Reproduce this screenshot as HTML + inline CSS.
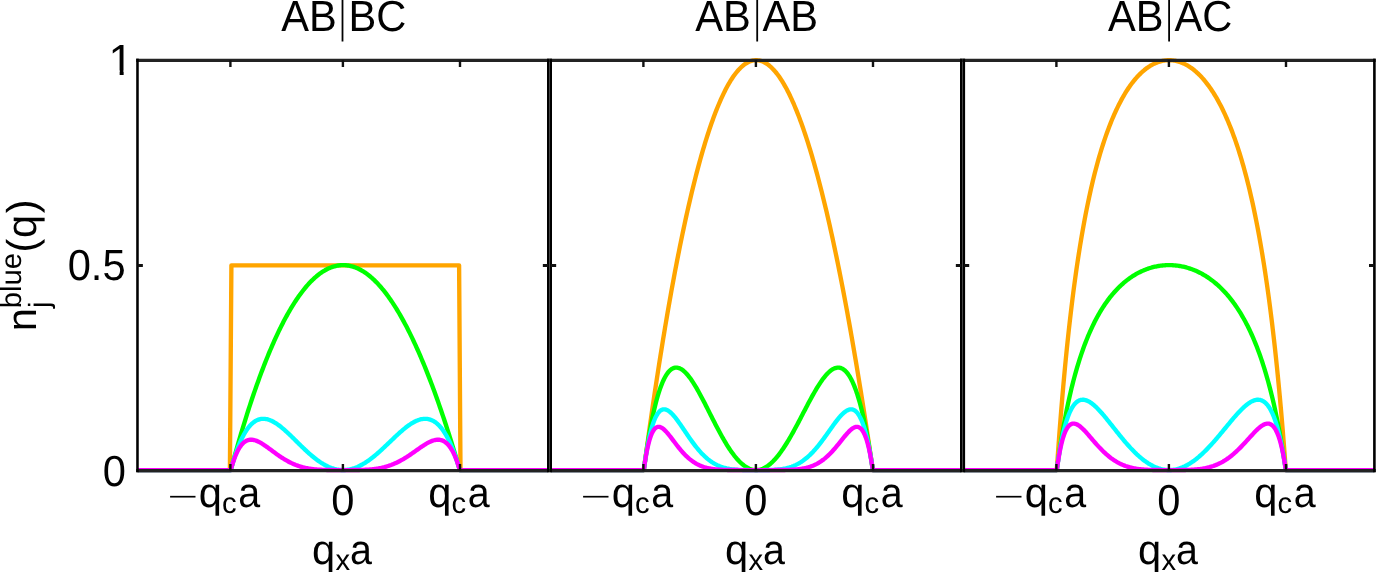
<!DOCTYPE html>
<html><head><meta charset="utf-8"><title>n_j blue(q)</title>
<style>
html,body{margin:0;padding:0;background:#fff;}
body{width:1376px;height:572px;overflow:hidden;font-family:"Liberation Sans",sans-serif;}
svg{display:block;will-change:transform;}
</style></head><body>
<svg width="1376" height="572" viewBox="0 0 1376 572">
<rect width="1376" height="572" fill="#fff"/>
<g fill="none" stroke-width="4.35" stroke-linejoin="round" stroke-linecap="butt" clip-path="url(#cp0)">
<path d="M137.50,470.05 L229.90,470.05 L231.40,265.30 L459.10,265.30 L460.50,470.05 L548.50,470.05" stroke="#ffa500"/>
<path d="M137.50,470.05 L230.80,470.05 L231.72,466.65 L232.64,463.28 L233.55,459.93 L234.47,456.62 L235.39,453.33 L236.31,450.07 L237.23,446.84 L238.15,443.64 L239.07,440.46 L239.99,437.32 L240.91,434.20 L241.83,431.11 L242.75,428.05 L243.67,425.02 L244.60,422.02 L245.52,419.05 L246.44,416.10 L247.36,413.18 L248.29,410.29 L249.21,407.43 L250.13,404.60 L251.06,401.80 L251.98,399.02 L252.91,396.28 L253.83,393.56 L254.76,390.87 L255.68,388.21 L256.61,385.58 L257.54,382.97 L258.46,380.40 L259.39,377.85 L260.32,375.33 L261.24,372.84 L262.17,370.38 L263.10,367.94 L264.03,365.54 L264.96,363.16 L265.89,360.81 L266.81,358.49 L267.74,356.20 L268.67,353.94 L269.60,351.71 L270.53,349.50 L271.47,347.32 L272.40,345.17 L273.33,343.05 L274.26,340.96 L275.19,338.90 L276.12,336.86 L277.06,334.86 L277.99,332.88 L278.92,330.93 L279.86,329.01 L280.79,327.11 L281.72,325.25 L282.66,323.41 L283.59,321.61 L284.53,319.83 L285.46,318.08 L286.40,316.36 L287.34,314.66 L288.27,313.00 L289.21,311.36 L290.15,309.75 L291.08,308.17 L292.02,306.62 L292.96,305.10 L293.90,303.61 L294.83,302.14 L295.77,300.70 L296.71,299.29 L297.65,297.91 L298.59,296.56 L299.53,295.24 L300.47,293.94 L301.41,292.68 L302.35,291.44 L303.29,290.23 L304.24,289.05 L305.18,287.89 L306.12,286.77 L307.06,285.67 L308.00,284.61 L308.95,283.57 L309.89,282.56 L310.83,281.58 L311.78,280.62 L312.72,279.70 L313.67,278.80 L314.61,277.93 L315.56,277.09 L316.50,276.28 L317.45,275.50 L318.39,274.75 L319.34,274.02 L320.29,273.32 L321.23,272.65 L322.18,272.01 L323.13,271.40 L324.08,270.82 L325.03,270.26 L325.97,269.74 L326.92,269.24 L327.87,268.77 L328.82,268.33 L329.77,267.91 L330.72,267.53 L331.67,267.17 L332.62,266.85 L333.57,266.55 L334.52,266.28 L335.48,266.04 L336.43,265.82 L337.38,265.64 L338.33,265.48 L339.29,265.35 L340.24,265.25 L341.19,265.18 L342.15,265.14 L343.10,265.12 L344.05,265.14 L345.01,265.18 L345.96,265.25 L346.92,265.35 L347.87,265.48 L348.83,265.64 L349.79,265.82 L350.74,266.04 L351.70,266.28 L352.66,266.55 L353.61,266.85 L354.57,267.17 L355.53,267.53 L356.49,267.91 L357.45,268.33 L358.41,268.77 L359.36,269.24 L360.32,269.74 L361.28,270.26 L362.24,270.82 L363.20,271.40 L364.17,272.01 L365.13,272.65 L366.09,273.32 L367.05,274.02 L368.01,274.75 L368.97,275.50 L369.94,276.28 L370.90,277.09 L371.86,277.93 L372.83,278.80 L373.79,279.70 L374.75,280.62 L375.72,281.58 L376.68,282.56 L377.65,283.57 L378.61,284.61 L379.58,285.67 L380.54,286.77 L381.51,287.89 L382.48,289.05 L383.44,290.23 L384.41,291.44 L385.38,292.68 L386.35,293.94 L387.31,295.24 L388.28,296.56 L389.25,297.91 L390.22,299.29 L391.19,300.70 L392.16,302.14 L393.13,303.61 L394.10,305.10 L395.07,306.62 L396.04,308.17 L397.01,309.75 L397.98,311.36 L398.96,313.00 L399.93,314.66 L400.90,316.36 L401.87,318.08 L402.85,319.83 L403.82,321.61 L404.79,323.41 L405.77,325.25 L406.74,327.11 L407.71,329.01 L408.69,330.93 L409.66,332.88 L410.64,334.86 L411.62,336.86 L412.59,338.90 L413.57,340.96 L414.54,343.05 L415.52,345.17 L416.50,347.32 L417.48,349.50 L418.45,351.71 L419.43,353.94 L420.41,356.20 L421.39,358.49 L422.37,360.81 L423.35,363.16 L424.33,365.54 L425.31,367.94 L426.29,370.38 L427.27,372.84 L428.25,375.33 L429.23,377.85 L430.21,380.40 L431.19,382.97 L432.18,385.58 L433.16,388.21 L434.14,390.87 L435.12,393.56 L436.11,396.28 L437.09,399.02 L438.08,401.80 L439.06,404.60 L440.04,407.43 L441.03,410.29 L442.01,413.18 L443.00,416.10 L443.99,419.05 L444.97,422.02 L445.96,425.02 L446.94,428.05 L447.93,431.11 L448.92,434.20 L449.91,437.32 L450.89,440.46 L451.88,443.64 L452.87,446.84 L453.86,450.07 L454.85,453.33 L455.84,456.62 L456.83,459.93 L457.82,463.28 L458.81,466.65 L459.80,470.05 L548.50,470.05" stroke="#00ff00"/>
<path d="M137.50,470.05 L230.80,470.05 L231.72,466.71 L232.64,463.50 L233.55,460.43 L234.47,457.50 L235.39,454.69 L236.31,452.02 L237.23,449.47 L238.15,447.04 L239.07,444.74 L239.99,442.55 L240.91,440.47 L241.83,438.51 L242.75,436.66 L243.67,434.92 L244.60,433.28 L245.52,431.74 L246.44,430.30 L247.36,428.96 L248.29,427.72 L249.21,426.57 L250.13,425.50 L251.06,424.53 L251.98,423.64 L252.91,422.84 L253.83,422.11 L254.76,421.46 L255.68,420.89 L256.61,420.40 L257.54,419.97 L258.46,419.62 L259.39,419.33 L260.32,419.11 L261.24,418.95 L262.17,418.86 L263.10,418.82 L264.03,418.84 L264.96,418.91 L265.89,419.04 L266.81,419.22 L267.74,419.45 L268.67,419.73 L269.60,420.05 L270.53,420.42 L271.47,420.82 L272.40,421.27 L273.33,421.76 L274.26,422.28 L275.19,422.84 L276.12,423.43 L277.06,424.05 L277.99,424.70 L278.92,425.38 L279.86,426.08 L280.79,426.81 L281.72,427.57 L282.66,428.34 L283.59,429.14 L284.53,429.95 L285.46,430.78 L286.40,431.63 L287.34,432.49 L288.27,433.36 L289.21,434.25 L290.15,435.14 L291.08,436.04 L292.02,436.96 L292.96,437.87 L293.90,438.80 L294.83,439.72 L295.77,440.65 L296.71,441.58 L297.65,442.51 L298.59,443.44 L299.53,444.36 L300.47,445.28 L301.41,446.20 L302.35,447.12 L303.29,448.02 L304.24,448.92 L305.18,449.81 L306.12,450.69 L307.06,451.56 L308.00,452.42 L308.95,453.27 L309.89,454.10 L310.83,454.92 L311.78,455.72 L312.72,456.51 L313.67,457.29 L314.61,458.04 L315.56,458.78 L316.50,459.50 L317.45,460.20 L318.39,460.88 L319.34,461.54 L320.29,462.18 L321.23,462.80 L322.18,463.39 L323.13,463.97 L324.08,464.52 L325.03,465.04 L325.97,465.54 L326.92,466.02 L327.87,466.47 L328.82,466.90 L329.77,467.30 L330.72,467.67 L331.67,468.02 L332.62,468.34 L333.57,468.64 L334.52,468.90 L335.48,469.14 L336.43,469.36 L337.38,469.54 L338.33,469.69 L339.29,469.82 L340.24,469.92 L341.19,469.99 L342.15,470.04 L343.10,470.05 L344.05,470.04 L345.01,469.99 L345.96,469.92 L346.92,469.82 L347.87,469.69 L348.83,469.54 L349.79,469.36 L350.74,469.14 L351.70,468.90 L352.66,468.64 L353.61,468.34 L354.57,468.02 L355.53,467.67 L356.49,467.30 L357.45,466.90 L358.41,466.47 L359.36,466.02 L360.32,465.54 L361.28,465.04 L362.24,464.52 L363.20,463.97 L364.17,463.39 L365.13,462.80 L366.09,462.18 L367.05,461.54 L368.01,460.88 L368.97,460.20 L369.94,459.50 L370.90,458.78 L371.86,458.04 L372.83,457.29 L373.79,456.51 L374.75,455.72 L375.72,454.92 L376.68,454.10 L377.65,453.27 L378.61,452.42 L379.58,451.56 L380.54,450.69 L381.51,449.81 L382.48,448.92 L383.44,448.02 L384.41,447.12 L385.38,446.20 L386.35,445.28 L387.31,444.36 L388.28,443.44 L389.25,442.51 L390.22,441.58 L391.19,440.65 L392.16,439.72 L393.13,438.80 L394.10,437.87 L395.07,436.96 L396.04,436.04 L397.01,435.14 L397.98,434.25 L398.96,433.36 L399.93,432.49 L400.90,431.63 L401.87,430.78 L402.85,429.95 L403.82,429.14 L404.79,428.34 L405.77,427.57 L406.74,426.81 L407.71,426.08 L408.69,425.38 L409.66,424.70 L410.64,424.05 L411.62,423.43 L412.59,422.84 L413.57,422.28 L414.54,421.76 L415.52,421.27 L416.50,420.82 L417.48,420.42 L418.45,420.05 L419.43,419.73 L420.41,419.45 L421.39,419.22 L422.37,419.04 L423.35,418.91 L424.33,418.84 L425.31,418.82 L426.29,418.86 L427.27,418.95 L428.25,419.11 L429.23,419.33 L430.21,419.62 L431.19,419.97 L432.18,420.40 L433.16,420.89 L434.14,421.46 L435.12,422.11 L436.11,422.84 L437.09,423.64 L438.08,424.53 L439.06,425.50 L440.04,426.57 L441.03,427.72 L442.01,428.96 L443.00,430.30 L443.99,431.74 L444.97,433.28 L445.96,434.92 L446.94,436.66 L447.93,438.51 L448.92,440.47 L449.91,442.55 L450.89,444.74 L451.88,447.04 L452.87,449.47 L453.86,452.02 L454.85,454.69 L455.84,457.50 L456.83,460.43 L457.82,463.50 L458.81,466.71 L459.80,470.05 L548.50,470.05" stroke="#00ffff"/>
<path d="M137.50,470.05 L230.80,470.05 L231.72,466.76 L232.64,463.72 L233.55,460.91 L234.47,458.32 L235.39,455.95 L236.31,453.78 L237.23,451.80 L238.15,450.01 L239.07,448.39 L239.99,446.94 L240.91,445.65 L241.83,444.50 L242.75,443.50 L243.67,442.64 L244.60,441.90 L245.52,441.28 L246.44,440.77 L247.36,440.37 L248.29,440.06 L249.21,439.85 L250.13,439.73 L251.06,439.69 L251.98,439.73 L252.91,439.83 L253.83,440.00 L254.76,440.24 L255.68,440.53 L256.61,440.87 L257.54,441.25 L258.46,441.68 L259.39,442.15 L260.32,442.66 L261.24,443.19 L262.17,443.76 L263.10,444.35 L264.03,444.96 L264.96,445.59 L265.89,446.23 L266.81,446.89 L267.74,447.56 L268.67,448.24 L269.60,448.92 L270.53,449.61 L271.47,450.30 L272.40,451.00 L273.33,451.68 L274.26,452.37 L275.19,453.05 L276.12,453.73 L277.06,454.40 L277.99,455.06 L278.92,455.70 L279.86,456.34 L280.79,456.97 L281.72,457.58 L282.66,458.19 L283.59,458.77 L284.53,459.35 L285.46,459.90 L286.40,460.44 L287.34,460.97 L288.27,461.48 L289.21,461.97 L290.15,462.45 L291.08,462.91 L292.02,463.35 L292.96,463.77 L293.90,464.18 L294.83,464.57 L295.77,464.95 L296.71,465.30 L297.65,465.64 L298.59,465.97 L299.53,466.28 L300.47,466.57 L301.41,466.84 L302.35,467.11 L303.29,467.35 L304.24,467.58 L305.18,467.80 L306.12,468.01 L307.06,468.20 L308.00,468.37 L308.95,468.54 L309.89,468.69 L310.83,468.84 L311.78,468.97 L312.72,469.09 L313.67,469.20 L314.61,469.30 L315.56,469.39 L316.50,469.48 L317.45,469.55 L318.39,469.62 L319.34,469.68 L320.29,469.74 L321.23,469.78 L322.18,469.83 L323.13,469.86 L324.08,469.90 L325.03,469.92 L325.97,469.95 L326.92,469.97 L327.87,469.99 L328.82,470.00 L329.77,470.01 L330.72,470.02 L331.67,470.03 L332.62,470.04 L333.57,470.04 L334.52,470.04 L335.48,470.05 L336.43,470.05 L337.38,470.05 L338.33,470.05 L339.29,470.05 L340.24,470.05 L341.19,470.05 L342.15,470.05 L343.10,470.05 L344.05,470.05 L345.01,470.05 L345.96,470.05 L346.92,470.05 L347.87,470.05 L348.83,470.05 L349.79,470.05 L350.74,470.05 L351.70,470.04 L352.66,470.04 L353.61,470.04 L354.57,470.03 L355.53,470.02 L356.49,470.01 L357.45,470.00 L358.41,469.99 L359.36,469.97 L360.32,469.95 L361.28,469.92 L362.24,469.90 L363.20,469.86 L364.17,469.83 L365.13,469.78 L366.09,469.74 L367.05,469.68 L368.01,469.62 L368.97,469.55 L369.94,469.48 L370.90,469.39 L371.86,469.30 L372.83,469.20 L373.79,469.09 L374.75,468.97 L375.72,468.84 L376.68,468.69 L377.65,468.54 L378.61,468.37 L379.58,468.20 L380.54,468.01 L381.51,467.80 L382.48,467.58 L383.44,467.35 L384.41,467.11 L385.38,466.84 L386.35,466.57 L387.31,466.28 L388.28,465.97 L389.25,465.64 L390.22,465.30 L391.19,464.95 L392.16,464.57 L393.13,464.18 L394.10,463.77 L395.07,463.35 L396.04,462.91 L397.01,462.45 L397.98,461.97 L398.96,461.48 L399.93,460.97 L400.90,460.44 L401.87,459.90 L402.85,459.35 L403.82,458.77 L404.79,458.19 L405.77,457.58 L406.74,456.97 L407.71,456.34 L408.69,455.70 L409.66,455.06 L410.64,454.40 L411.62,453.73 L412.59,453.05 L413.57,452.37 L414.54,451.68 L415.52,451.00 L416.50,450.30 L417.48,449.61 L418.45,448.92 L419.43,448.24 L420.41,447.56 L421.39,446.89 L422.37,446.23 L423.35,445.59 L424.33,444.96 L425.31,444.35 L426.29,443.76 L427.27,443.19 L428.25,442.66 L429.23,442.15 L430.21,441.68 L431.19,441.25 L432.18,440.87 L433.16,440.53 L434.14,440.24 L435.12,440.00 L436.11,439.83 L437.09,439.73 L438.08,439.69 L439.06,439.73 L440.04,439.85 L441.03,440.06 L442.01,440.37 L443.00,440.77 L443.99,441.28 L444.97,441.90 L445.96,442.64 L446.94,443.50 L447.93,444.50 L448.92,445.65 L449.91,446.94 L450.89,448.39 L451.88,450.01 L452.87,451.80 L453.86,453.78 L454.85,455.95 L455.84,458.32 L456.83,460.91 L457.82,463.72 L458.81,466.76 L459.80,470.05 L548.50,470.05" stroke="#ff00ff"/>
</g>
<g fill="none" stroke-width="4.35" stroke-linejoin="round" stroke-linecap="butt" clip-path="url(#cp1)">
<path d="M550.50,470.05 L643.80,470.05 L644.72,463.25 L645.64,456.50 L646.55,449.81 L647.47,443.18 L648.39,436.61 L649.31,430.09 L650.23,423.63 L651.15,417.22 L652.07,410.88 L652.99,404.59 L653.91,398.35 L654.83,392.18 L655.75,386.06 L656.67,380.00 L657.60,373.99 L658.52,368.04 L659.44,362.15 L660.36,356.32 L661.29,350.54 L662.21,344.82 L663.13,339.15 L664.06,333.55 L664.98,328.00 L665.91,322.50 L666.83,317.07 L667.76,311.69 L668.68,306.37 L669.61,301.10 L670.54,295.89 L671.46,290.74 L672.39,285.65 L673.32,280.61 L674.24,275.63 L675.17,270.70 L676.10,265.84 L677.03,261.03 L677.96,256.27 L678.89,251.58 L679.81,246.94 L680.74,242.36 L681.67,237.83 L682.60,233.36 L683.53,228.95 L684.47,224.60 L685.40,220.30 L686.33,216.06 L687.26,211.87 L688.19,207.75 L689.12,203.68 L690.06,199.66 L690.99,195.71 L691.92,191.81 L692.86,187.97 L693.79,184.18 L694.72,180.45 L695.66,176.78 L696.59,173.16 L697.53,169.61 L698.46,166.11 L699.40,162.66 L700.34,159.28 L701.27,155.95 L702.21,152.67 L703.15,149.46 L704.08,146.30 L705.02,143.19 L705.96,140.15 L706.90,137.16 L707.83,134.23 L708.77,131.35 L709.71,128.54 L710.65,125.78 L711.59,123.07 L712.53,120.43 L713.47,117.84 L714.41,115.30 L715.35,112.83 L716.29,110.41 L717.24,108.04 L718.18,105.74 L719.12,103.49 L720.06,101.30 L721.00,99.16 L721.95,97.09 L722.89,95.07 L723.83,93.10 L724.78,91.19 L725.72,89.34 L726.67,87.55 L727.61,85.82 L728.56,84.14 L729.50,82.51 L730.45,80.95 L731.39,79.44 L732.34,77.99 L733.29,76.59 L734.23,75.26 L735.18,73.98 L736.13,72.75 L737.08,71.58 L738.03,70.47 L738.97,69.42 L739.92,68.43 L740.87,67.49 L741.82,66.60 L742.77,65.78 L743.72,65.01 L744.67,64.30 L745.62,63.64 L746.57,63.05 L747.52,62.51 L748.48,62.02 L749.43,61.59 L750.38,61.22 L751.33,60.91 L752.29,60.66 L753.24,60.46 L754.19,60.31 L755.15,60.23 L756.10,60.20 L757.05,60.23 L758.01,60.31 L758.96,60.46 L759.92,60.66 L760.87,60.91 L761.83,61.22 L762.79,61.59 L763.74,62.02 L764.70,62.51 L765.66,63.05 L766.61,63.64 L767.57,64.30 L768.53,65.01 L769.49,65.78 L770.45,66.60 L771.41,67.49 L772.36,68.43 L773.32,69.42 L774.28,70.47 L775.24,71.58 L776.20,72.75 L777.17,73.98 L778.13,75.26 L779.09,76.59 L780.05,77.99 L781.01,79.44 L781.97,80.95 L782.94,82.51 L783.90,84.14 L784.86,85.82 L785.83,87.55 L786.79,89.34 L787.75,91.19 L788.72,93.10 L789.68,95.07 L790.65,97.09 L791.61,99.16 L792.58,101.30 L793.54,103.49 L794.51,105.74 L795.48,108.04 L796.44,110.41 L797.41,112.83 L798.38,115.30 L799.35,117.84 L800.31,120.43 L801.28,123.07 L802.25,125.78 L803.22,128.54 L804.19,131.35 L805.16,134.23 L806.13,137.16 L807.10,140.15 L808.07,143.19 L809.04,146.30 L810.01,149.46 L810.98,152.67 L811.96,155.95 L812.93,159.28 L813.90,162.66 L814.87,166.11 L815.85,169.61 L816.82,173.16 L817.79,176.78 L818.77,180.45 L819.74,184.18 L820.71,187.97 L821.69,191.81 L822.66,195.71 L823.64,199.66 L824.62,203.68 L825.59,207.75 L826.57,211.87 L827.54,216.06 L828.52,220.30 L829.50,224.60 L830.48,228.95 L831.45,233.36 L832.43,237.83 L833.41,242.36 L834.39,246.94 L835.37,251.58 L836.35,256.27 L837.33,261.03 L838.31,265.84 L839.29,270.70 L840.27,275.63 L841.25,280.61 L842.23,285.65 L843.21,290.74 L844.19,295.89 L845.18,301.10 L846.16,306.37 L847.14,311.69 L848.12,317.07 L849.11,322.50 L850.09,328.00 L851.08,333.55 L852.06,339.15 L853.04,344.82 L854.03,350.54 L855.01,356.32 L856.00,362.15 L856.99,368.04 L857.97,373.99 L858.96,380.00 L859.94,386.06 L860.93,392.18 L861.92,398.35 L862.91,404.59 L863.89,410.88 L864.88,417.22 L865.87,423.63 L866.86,430.09 L867.85,436.61 L868.84,443.18 L869.83,449.81 L870.82,456.50 L871.81,463.25 L872.80,470.05 L961.50,470.05" stroke="#ffa500"/>
<path d="M550.50,470.05 L643.80,470.05 L644.72,463.36 L645.64,456.95 L646.55,450.81 L647.47,444.94 L648.39,439.34 L649.31,433.99 L650.23,428.89 L651.15,424.03 L652.07,419.42 L652.99,415.04 L653.91,410.90 L654.83,406.97 L655.75,403.27 L656.67,399.78 L657.60,396.51 L658.52,393.43 L659.44,390.56 L660.36,387.88 L661.29,385.39 L662.21,383.08 L663.13,380.96 L664.06,379.01 L664.98,377.23 L665.91,375.62 L666.83,374.17 L667.76,372.88 L668.68,371.74 L669.61,370.75 L670.54,369.90 L671.46,369.19 L672.39,368.61 L673.32,368.17 L674.24,367.86 L675.17,367.66 L676.10,367.59 L677.03,367.63 L677.96,367.78 L678.89,368.04 L679.81,368.39 L680.74,368.85 L681.67,369.41 L682.60,370.05 L683.53,370.78 L684.47,371.60 L685.40,372.49 L686.33,373.46 L687.26,374.51 L688.19,375.62 L689.12,376.80 L690.06,378.04 L690.99,379.35 L691.92,380.70 L692.86,382.11 L693.79,383.57 L694.72,385.08 L695.66,386.63 L696.59,388.22 L697.53,389.85 L698.46,391.51 L699.40,393.20 L700.34,394.92 L701.27,396.67 L702.21,398.44 L703.15,400.23 L704.08,402.04 L705.02,403.86 L705.96,405.70 L706.90,407.54 L707.83,409.39 L708.77,411.25 L709.71,413.11 L710.65,414.97 L711.59,416.82 L712.53,418.67 L713.47,420.52 L714.41,422.36 L715.35,424.18 L716.29,425.99 L717.24,427.79 L718.18,429.57 L719.12,431.33 L720.06,433.07 L721.00,434.79 L721.95,436.48 L722.89,438.15 L723.83,439.79 L724.78,441.40 L725.72,442.98 L726.67,444.52 L727.61,446.04 L728.56,447.51 L729.50,448.95 L730.45,450.35 L731.39,451.71 L732.34,453.03 L733.29,454.31 L734.23,455.55 L735.18,456.74 L736.13,457.88 L737.08,458.98 L738.03,460.03 L738.97,461.04 L739.92,461.99 L740.87,462.89 L741.82,463.75 L742.77,464.55 L743.72,465.30 L744.67,465.99 L745.62,466.64 L746.57,467.22 L747.52,467.76 L748.48,468.24 L749.43,468.66 L750.38,469.03 L751.33,469.34 L752.29,469.60 L753.24,469.79 L754.19,469.94 L755.15,470.02 L756.10,470.05 L757.05,470.02 L758.01,469.94 L758.96,469.79 L759.92,469.60 L760.87,469.34 L761.83,469.03 L762.79,468.66 L763.74,468.24 L764.70,467.76 L765.66,467.22 L766.61,466.64 L767.57,465.99 L768.53,465.30 L769.49,464.55 L770.45,463.75 L771.41,462.89 L772.36,461.99 L773.32,461.04 L774.28,460.03 L775.24,458.98 L776.20,457.88 L777.17,456.74 L778.13,455.55 L779.09,454.31 L780.05,453.03 L781.01,451.71 L781.97,450.35 L782.94,448.95 L783.90,447.51 L784.86,446.04 L785.83,444.52 L786.79,442.98 L787.75,441.40 L788.72,439.79 L789.68,438.15 L790.65,436.48 L791.61,434.79 L792.58,433.07 L793.54,431.33 L794.51,429.57 L795.48,427.79 L796.44,425.99 L797.41,424.18 L798.38,422.36 L799.35,420.52 L800.31,418.67 L801.28,416.82 L802.25,414.97 L803.22,413.11 L804.19,411.25 L805.16,409.39 L806.13,407.54 L807.10,405.70 L808.07,403.86 L809.04,402.04 L810.01,400.23 L810.98,398.44 L811.96,396.67 L812.93,394.92 L813.90,393.20 L814.87,391.51 L815.85,389.85 L816.82,388.22 L817.79,386.63 L818.77,385.08 L819.74,383.57 L820.71,382.11 L821.69,380.70 L822.66,379.35 L823.64,378.04 L824.62,376.80 L825.59,375.62 L826.57,374.51 L827.54,373.46 L828.52,372.49 L829.50,371.60 L830.48,370.78 L831.45,370.05 L832.43,369.41 L833.41,368.85 L834.39,368.39 L835.37,368.04 L836.35,367.78 L837.33,367.63 L838.31,367.59 L839.29,367.66 L840.27,367.86 L841.25,368.17 L842.23,368.61 L843.21,369.19 L844.19,369.90 L845.18,370.75 L846.16,371.74 L847.14,372.88 L848.12,374.17 L849.11,375.62 L850.09,377.23 L851.08,379.01 L852.06,380.96 L853.04,383.08 L854.03,385.39 L855.01,387.88 L856.00,390.56 L856.99,393.43 L857.97,396.51 L858.96,399.78 L859.94,403.27 L860.93,406.97 L861.92,410.90 L862.91,415.04 L863.89,419.42 L864.88,424.03 L865.87,428.89 L866.86,433.99 L867.85,439.34 L868.84,444.94 L869.83,450.81 L870.82,456.95 L871.81,463.36 L872.80,470.05 L961.50,470.05" stroke="#00ff00"/>
<path d="M550.50,470.05 L643.80,470.05 L644.72,463.47 L645.64,457.38 L646.55,451.76 L647.47,446.59 L648.39,441.84 L649.31,437.50 L650.23,433.55 L651.15,429.96 L652.07,426.73 L652.99,423.83 L653.91,421.24 L654.83,418.96 L655.75,416.96 L656.67,415.22 L657.60,413.74 L658.52,412.50 L659.44,411.48 L660.36,410.68 L661.29,410.08 L662.21,409.66 L663.13,409.41 L664.06,409.33 L664.98,409.40 L665.91,409.62 L666.83,409.96 L667.76,410.42 L668.68,411.00 L669.61,411.68 L670.54,412.46 L671.46,413.32 L672.39,414.25 L673.32,415.26 L674.24,416.33 L675.17,417.46 L676.10,418.64 L677.03,419.86 L677.96,421.12 L678.89,422.41 L679.81,423.73 L680.74,425.07 L681.67,426.43 L682.60,427.80 L683.53,429.18 L684.47,430.56 L685.40,431.94 L686.33,433.32 L687.26,434.69 L688.19,436.06 L689.12,437.41 L690.06,438.74 L690.99,440.06 L691.92,441.36 L692.86,442.64 L693.79,443.89 L694.72,445.12 L695.66,446.32 L696.59,447.50 L697.53,448.64 L698.46,449.76 L699.40,450.84 L700.34,451.89 L701.27,452.91 L702.21,453.89 L703.15,454.85 L704.08,455.76 L705.02,456.65 L705.96,457.50 L706.90,458.31 L707.83,459.09 L708.77,459.84 L709.71,460.56 L710.65,461.24 L711.59,461.88 L712.53,462.50 L713.47,463.08 L714.41,463.64 L715.35,464.16 L716.29,464.65 L717.24,465.12 L718.18,465.55 L719.12,465.96 L720.06,466.34 L721.00,466.70 L721.95,467.03 L722.89,467.34 L723.83,467.62 L724.78,467.88 L725.72,468.12 L726.67,468.35 L727.61,468.55 L728.56,468.73 L729.50,468.90 L730.45,469.05 L731.39,469.19 L732.34,469.31 L733.29,469.42 L734.23,469.52 L735.18,469.60 L736.13,469.68 L737.08,469.74 L738.03,469.80 L738.97,469.85 L739.92,469.89 L740.87,469.92 L741.82,469.95 L742.77,469.98 L743.72,469.99 L744.67,470.01 L745.62,470.02 L746.57,470.03 L747.52,470.04 L748.48,470.04 L749.43,470.05 L750.38,470.05 L751.33,470.05 L752.29,470.05 L753.24,470.05 L754.19,470.05 L755.15,470.05 L756.10,470.05 L757.05,470.05 L758.01,470.05 L758.96,470.05 L759.92,470.05 L760.87,470.05 L761.83,470.05 L762.79,470.05 L763.74,470.04 L764.70,470.04 L765.66,470.03 L766.61,470.02 L767.57,470.01 L768.53,469.99 L769.49,469.98 L770.45,469.95 L771.41,469.92 L772.36,469.89 L773.32,469.85 L774.28,469.80 L775.24,469.74 L776.20,469.68 L777.17,469.60 L778.13,469.52 L779.09,469.42 L780.05,469.31 L781.01,469.19 L781.97,469.05 L782.94,468.90 L783.90,468.73 L784.86,468.55 L785.83,468.35 L786.79,468.12 L787.75,467.88 L788.72,467.62 L789.68,467.34 L790.65,467.03 L791.61,466.70 L792.58,466.34 L793.54,465.96 L794.51,465.55 L795.48,465.12 L796.44,464.65 L797.41,464.16 L798.38,463.64 L799.35,463.08 L800.31,462.50 L801.28,461.88 L802.25,461.24 L803.22,460.56 L804.19,459.84 L805.16,459.09 L806.13,458.31 L807.10,457.50 L808.07,456.65 L809.04,455.76 L810.01,454.85 L810.98,453.89 L811.96,452.91 L812.93,451.89 L813.90,450.84 L814.87,449.76 L815.85,448.64 L816.82,447.50 L817.79,446.32 L818.77,445.12 L819.74,443.89 L820.71,442.64 L821.69,441.36 L822.66,440.06 L823.64,438.74 L824.62,437.41 L825.59,436.06 L826.57,434.69 L827.54,433.32 L828.52,431.94 L829.50,430.56 L830.48,429.18 L831.45,427.80 L832.43,426.43 L833.41,425.07 L834.39,423.73 L835.37,422.41 L836.35,421.12 L837.33,419.86 L838.31,418.64 L839.29,417.46 L840.27,416.33 L841.25,415.26 L842.23,414.25 L843.21,413.32 L844.19,412.46 L845.18,411.68 L846.16,411.00 L847.14,410.42 L848.12,409.96 L849.11,409.62 L850.09,409.40 L851.08,409.33 L852.06,409.41 L853.04,409.66 L854.03,410.08 L855.01,410.68 L856.00,411.48 L856.99,412.50 L857.97,413.74 L858.96,415.22 L859.94,416.96 L860.93,418.96 L861.92,421.24 L862.91,423.83 L863.89,426.73 L864.88,429.96 L865.87,433.55 L866.86,437.50 L867.85,441.84 L868.84,446.59 L869.83,451.76 L870.82,457.38 L871.81,463.47 L872.80,470.05 L961.50,470.05" stroke="#00ffff"/>
<path d="M550.50,470.05 L643.80,470.05 L644.72,463.58 L645.64,457.80 L646.55,452.67 L647.47,448.13 L648.39,444.14 L649.31,440.68 L650.23,437.68 L651.15,435.13 L652.07,432.98 L652.99,431.21 L653.91,429.78 L654.83,428.67 L655.75,427.84 L656.67,427.27 L657.60,426.94 L658.52,426.82 L659.44,426.90 L660.36,427.16 L661.29,427.56 L662.21,428.11 L663.13,428.78 L664.06,429.55 L664.98,430.42 L665.91,431.37 L666.83,432.39 L667.76,433.46 L668.68,434.58 L669.61,435.74 L670.54,436.93 L671.46,438.14 L672.39,439.36 L673.32,440.59 L674.24,441.82 L675.17,443.04 L676.10,444.26 L677.03,445.46 L677.96,446.64 L678.89,447.81 L679.81,448.95 L680.74,450.06 L681.67,451.15 L682.60,452.20 L683.53,453.22 L684.47,454.21 L685.40,455.16 L686.33,456.08 L687.26,456.97 L688.19,457.81 L689.12,458.62 L690.06,459.40 L690.99,460.13 L691.92,460.84 L692.86,461.50 L693.79,462.14 L694.72,462.74 L695.66,463.30 L696.59,463.83 L697.53,464.33 L698.46,464.81 L699.40,465.25 L700.34,465.66 L701.27,466.05 L702.21,466.40 L703.15,466.74 L704.08,467.05 L705.02,467.34 L705.96,467.60 L706.90,467.85 L707.83,468.07 L708.77,468.28 L709.71,468.47 L710.65,468.64 L711.59,468.80 L712.53,468.94 L713.47,469.07 L714.41,469.19 L715.35,469.29 L716.29,469.39 L717.24,469.47 L718.18,469.55 L719.12,469.62 L720.06,469.68 L721.00,469.73 L721.95,469.78 L722.89,469.82 L723.83,469.85 L724.78,469.89 L725.72,469.91 L726.67,469.94 L727.61,469.96 L728.56,469.97 L729.50,469.99 L730.45,470.00 L731.39,470.01 L732.34,470.02 L733.29,470.02 L734.23,470.03 L735.18,470.03 L736.13,470.04 L737.08,470.04 L738.03,470.04 L738.97,470.05 L739.92,470.05 L740.87,470.05 L741.82,470.05 L742.77,470.05 L743.72,470.05 L744.67,470.05 L745.62,470.05 L746.57,470.05 L747.52,470.05 L748.48,470.05 L749.43,470.05 L750.38,470.05 L751.33,470.05 L752.29,470.05 L753.24,470.05 L754.19,470.05 L755.15,470.05 L756.10,470.05 L757.05,470.05 L758.01,470.05 L758.96,470.05 L759.92,470.05 L760.87,470.05 L761.83,470.05 L762.79,470.05 L763.74,470.05 L764.70,470.05 L765.66,470.05 L766.61,470.05 L767.57,470.05 L768.53,470.05 L769.49,470.05 L770.45,470.05 L771.41,470.05 L772.36,470.05 L773.32,470.05 L774.28,470.04 L775.24,470.04 L776.20,470.04 L777.17,470.03 L778.13,470.03 L779.09,470.02 L780.05,470.02 L781.01,470.01 L781.97,470.00 L782.94,469.99 L783.90,469.97 L784.86,469.96 L785.83,469.94 L786.79,469.91 L787.75,469.89 L788.72,469.85 L789.68,469.82 L790.65,469.78 L791.61,469.73 L792.58,469.68 L793.54,469.62 L794.51,469.55 L795.48,469.47 L796.44,469.39 L797.41,469.29 L798.38,469.19 L799.35,469.07 L800.31,468.94 L801.28,468.80 L802.25,468.64 L803.22,468.47 L804.19,468.28 L805.16,468.07 L806.13,467.85 L807.10,467.60 L808.07,467.34 L809.04,467.05 L810.01,466.74 L810.98,466.40 L811.96,466.05 L812.93,465.66 L813.90,465.25 L814.87,464.81 L815.85,464.33 L816.82,463.83 L817.79,463.30 L818.77,462.74 L819.74,462.14 L820.71,461.50 L821.69,460.84 L822.66,460.13 L823.64,459.40 L824.62,458.62 L825.59,457.81 L826.57,456.97 L827.54,456.08 L828.52,455.16 L829.50,454.21 L830.48,453.22 L831.45,452.20 L832.43,451.15 L833.41,450.06 L834.39,448.95 L835.37,447.81 L836.35,446.64 L837.33,445.46 L838.31,444.26 L839.29,443.04 L840.27,441.82 L841.25,440.59 L842.23,439.36 L843.21,438.14 L844.19,436.93 L845.18,435.74 L846.16,434.58 L847.14,433.46 L848.12,432.39 L849.11,431.37 L850.09,430.42 L851.08,429.55 L852.06,428.78 L853.04,428.11 L854.03,427.56 L855.01,427.16 L856.00,426.90 L856.99,426.82 L857.97,426.94 L858.96,427.27 L859.94,427.84 L860.93,428.67 L861.92,429.78 L862.91,431.21 L863.89,432.98 L864.88,435.13 L865.87,437.68 L866.86,440.68 L867.85,444.14 L868.84,448.13 L869.83,452.67 L870.82,457.80 L871.81,463.58 L872.80,470.05 L961.50,470.05" stroke="#ff00ff"/>
</g>
<g fill="none" stroke-width="4.35" stroke-linejoin="round" stroke-linecap="butt" clip-path="url(#cp2)">
<path d="M963.50,470.05 L1056.80,470.05 L1057.72,456.67 L1058.64,443.82 L1059.55,431.48 L1060.47,419.62 L1061.39,408.21 L1062.31,397.23 L1063.23,386.65 L1064.15,376.46 L1065.07,366.64 L1065.99,357.16 L1066.91,348.01 L1067.83,339.17 L1068.75,330.64 L1069.67,322.39 L1070.60,314.41 L1071.52,306.69 L1072.44,299.22 L1073.36,291.99 L1074.29,284.99 L1075.21,278.21 L1076.13,271.63 L1077.06,265.25 L1077.98,259.07 L1078.91,253.07 L1079.83,247.25 L1080.76,241.60 L1081.68,236.11 L1082.61,230.78 L1083.54,225.61 L1084.46,220.58 L1085.39,215.69 L1086.32,210.94 L1087.24,206.31 L1088.17,201.82 L1089.10,197.45 L1090.03,193.20 L1090.96,189.06 L1091.89,185.03 L1092.81,181.11 L1093.74,177.30 L1094.67,173.59 L1095.60,169.97 L1096.53,166.45 L1097.47,163.02 L1098.40,159.68 L1099.33,156.42 L1100.26,153.25 L1101.19,150.17 L1102.12,147.16 L1103.06,144.23 L1103.99,141.37 L1104.92,138.59 L1105.86,135.88 L1106.79,133.24 L1107.72,130.66 L1108.66,128.15 L1109.59,125.71 L1110.53,123.33 L1111.46,121.01 L1112.40,118.75 L1113.34,116.55 L1114.27,114.40 L1115.21,112.32 L1116.15,110.28 L1117.08,108.30 L1118.02,106.37 L1118.96,104.49 L1119.90,102.67 L1120.83,100.89 L1121.77,99.16 L1122.71,97.48 L1123.65,95.84 L1124.59,94.25 L1125.53,92.70 L1126.47,91.20 L1127.41,89.74 L1128.35,88.32 L1129.29,86.94 L1130.24,85.60 L1131.18,84.31 L1132.12,83.05 L1133.06,81.83 L1134.00,80.65 L1134.95,79.51 L1135.89,78.41 L1136.83,77.34 L1137.78,76.31 L1138.72,75.31 L1139.67,74.35 L1140.61,73.42 L1141.56,72.53 L1142.50,71.67 L1143.45,70.84 L1144.39,70.05 L1145.34,69.29 L1146.29,68.56 L1147.23,67.87 L1148.18,67.21 L1149.13,66.57 L1150.08,65.97 L1151.03,65.40 L1151.97,64.86 L1152.92,64.35 L1153.87,63.88 L1154.82,63.43 L1155.77,63.01 L1156.72,62.62 L1157.67,62.26 L1158.62,61.93 L1159.57,61.63 L1160.52,61.36 L1161.48,61.11 L1162.43,60.90 L1163.38,60.71 L1164.33,60.56 L1165.29,60.43 L1166.24,60.33 L1167.19,60.26 L1168.15,60.21 L1169.10,60.20 L1170.05,60.21 L1171.01,60.26 L1171.96,60.33 L1172.92,60.43 L1173.87,60.56 L1174.83,60.71 L1175.79,60.90 L1176.74,61.11 L1177.70,61.36 L1178.66,61.63 L1179.61,61.93 L1180.57,62.26 L1181.53,62.62 L1182.49,63.01 L1183.45,63.43 L1184.41,63.88 L1185.36,64.35 L1186.32,64.86 L1187.28,65.40 L1188.24,65.97 L1189.20,66.57 L1190.17,67.21 L1191.13,67.87 L1192.09,68.56 L1193.05,69.29 L1194.01,70.05 L1194.97,70.84 L1195.94,71.67 L1196.90,72.53 L1197.86,73.42 L1198.83,74.35 L1199.79,75.31 L1200.75,76.31 L1201.72,77.34 L1202.68,78.41 L1203.65,79.51 L1204.61,80.65 L1205.58,81.83 L1206.54,83.05 L1207.51,84.31 L1208.48,85.60 L1209.44,86.94 L1210.41,88.32 L1211.38,89.74 L1212.35,91.20 L1213.31,92.70 L1214.28,94.25 L1215.25,95.84 L1216.22,97.48 L1217.19,99.16 L1218.16,100.89 L1219.13,102.67 L1220.10,104.49 L1221.07,106.37 L1222.04,108.30 L1223.01,110.28 L1223.98,112.32 L1224.96,114.40 L1225.93,116.55 L1226.90,118.75 L1227.87,121.01 L1228.85,123.33 L1229.82,125.71 L1230.79,128.15 L1231.77,130.66 L1232.74,133.24 L1233.71,135.88 L1234.69,138.59 L1235.66,141.37 L1236.64,144.23 L1237.62,147.16 L1238.59,150.17 L1239.57,153.25 L1240.54,156.42 L1241.52,159.68 L1242.50,163.02 L1243.48,166.45 L1244.45,169.97 L1245.43,173.59 L1246.41,177.30 L1247.39,181.11 L1248.37,185.03 L1249.35,189.06 L1250.33,193.20 L1251.31,197.45 L1252.29,201.82 L1253.27,206.31 L1254.25,210.94 L1255.23,215.69 L1256.21,220.58 L1257.19,225.61 L1258.18,230.78 L1259.16,236.11 L1260.14,241.60 L1261.12,247.25 L1262.11,253.07 L1263.09,259.07 L1264.08,265.25 L1265.06,271.63 L1266.04,278.21 L1267.03,284.99 L1268.01,291.99 L1269.00,299.22 L1269.99,306.69 L1270.97,314.41 L1271.96,322.39 L1272.94,330.64 L1273.93,339.17 L1274.92,348.01 L1275.91,357.16 L1276.89,366.64 L1277.88,376.46 L1278.87,386.65 L1279.86,397.23 L1280.85,408.21 L1281.84,419.62 L1282.83,431.48 L1283.82,443.82 L1284.81,456.67 L1285.80,470.05 L1374.50,470.05" stroke="#ffa500"/>
<path d="M963.50,470.05 L1056.80,470.05 L1057.72,463.36 L1058.64,456.94 L1059.55,450.77 L1060.47,444.84 L1061.39,439.13 L1062.31,433.64 L1063.23,428.35 L1064.15,423.26 L1065.07,418.34 L1065.99,413.60 L1066.91,409.03 L1067.83,404.61 L1068.75,400.34 L1069.67,396.22 L1070.60,392.23 L1071.52,388.37 L1072.44,384.64 L1073.36,381.02 L1074.29,377.52 L1075.21,374.13 L1076.13,370.84 L1077.06,367.65 L1077.98,364.56 L1078.91,361.56 L1079.83,358.65 L1080.76,355.82 L1081.68,353.08 L1082.61,350.42 L1083.54,347.83 L1084.46,345.31 L1085.39,342.87 L1086.32,340.49 L1087.24,338.18 L1088.17,335.94 L1089.10,333.75 L1090.03,331.62 L1090.96,329.56 L1091.89,327.54 L1092.81,325.58 L1093.74,323.68 L1094.67,321.82 L1095.60,320.01 L1096.53,318.25 L1097.47,316.53 L1098.40,314.86 L1099.33,313.24 L1100.26,311.65 L1101.19,310.11 L1102.12,308.60 L1103.06,307.14 L1103.99,305.71 L1104.92,304.32 L1105.86,302.96 L1106.79,301.64 L1107.72,300.36 L1108.66,299.10 L1109.59,297.88 L1110.53,296.69 L1111.46,295.53 L1112.40,294.40 L1113.34,293.30 L1114.27,292.23 L1115.21,291.18 L1116.15,290.17 L1117.08,289.18 L1118.02,288.21 L1118.96,287.27 L1119.90,286.36 L1120.83,285.47 L1121.77,284.60 L1122.71,283.76 L1123.65,282.94 L1124.59,282.15 L1125.53,281.38 L1126.47,280.62 L1127.41,279.89 L1128.35,279.18 L1129.29,278.50 L1130.24,277.83 L1131.18,277.18 L1132.12,276.55 L1133.06,275.94 L1134.00,275.35 L1134.95,274.78 L1135.89,274.23 L1136.83,273.69 L1137.78,273.18 L1138.72,272.68 L1139.67,272.20 L1140.61,271.74 L1141.56,271.29 L1142.50,270.86 L1143.45,270.45 L1144.39,270.05 L1145.34,269.67 L1146.29,269.31 L1147.23,268.96 L1148.18,268.63 L1149.13,268.31 L1150.08,268.01 L1151.03,267.73 L1151.97,267.46 L1152.92,267.20 L1153.87,266.96 L1154.82,266.74 L1155.77,266.53 L1156.72,266.33 L1157.67,266.15 L1158.62,265.99 L1159.57,265.84 L1160.52,265.70 L1161.48,265.58 L1162.43,265.47 L1163.38,265.38 L1164.33,265.30 L1165.29,265.24 L1166.24,265.19 L1167.19,265.15 L1168.15,265.13 L1169.10,265.12 L1170.05,265.13 L1171.01,265.15 L1171.96,265.19 L1172.92,265.24 L1173.87,265.30 L1174.83,265.38 L1175.79,265.47 L1176.74,265.58 L1177.70,265.70 L1178.66,265.84 L1179.61,265.99 L1180.57,266.15 L1181.53,266.33 L1182.49,266.53 L1183.45,266.74 L1184.41,266.96 L1185.36,267.20 L1186.32,267.46 L1187.28,267.73 L1188.24,268.01 L1189.20,268.31 L1190.17,268.63 L1191.13,268.96 L1192.09,269.31 L1193.05,269.67 L1194.01,270.05 L1194.97,270.45 L1195.94,270.86 L1196.90,271.29 L1197.86,271.74 L1198.83,272.20 L1199.79,272.68 L1200.75,273.18 L1201.72,273.69 L1202.68,274.23 L1203.65,274.78 L1204.61,275.35 L1205.58,275.94 L1206.54,276.55 L1207.51,277.18 L1208.48,277.83 L1209.44,278.50 L1210.41,279.18 L1211.38,279.89 L1212.35,280.62 L1213.31,281.38 L1214.28,282.15 L1215.25,282.94 L1216.22,283.76 L1217.19,284.60 L1218.16,285.47 L1219.13,286.36 L1220.10,287.27 L1221.07,288.21 L1222.04,289.18 L1223.01,290.17 L1223.98,291.18 L1224.96,292.23 L1225.93,293.30 L1226.90,294.40 L1227.87,295.53 L1228.85,296.69 L1229.82,297.88 L1230.79,299.10 L1231.77,300.36 L1232.74,301.64 L1233.71,302.96 L1234.69,304.32 L1235.66,305.71 L1236.64,307.14 L1237.62,308.60 L1238.59,310.11 L1239.57,311.65 L1240.54,313.24 L1241.52,314.86 L1242.50,316.53 L1243.48,318.25 L1244.45,320.01 L1245.43,321.82 L1246.41,323.68 L1247.39,325.58 L1248.37,327.54 L1249.35,329.56 L1250.33,331.62 L1251.31,333.75 L1252.29,335.94 L1253.27,338.18 L1254.25,340.49 L1255.23,342.87 L1256.21,345.31 L1257.19,347.83 L1258.18,350.42 L1259.16,353.08 L1260.14,355.82 L1261.12,358.65 L1262.11,361.56 L1263.09,364.56 L1264.08,367.65 L1265.06,370.84 L1266.04,374.13 L1267.03,377.52 L1268.01,381.02 L1269.00,384.64 L1269.99,388.37 L1270.97,392.23 L1271.96,396.22 L1272.94,400.34 L1273.93,404.61 L1274.92,409.03 L1275.91,413.60 L1276.89,418.34 L1277.88,423.26 L1278.87,428.35 L1279.86,433.64 L1280.85,439.13 L1281.84,444.84 L1282.83,450.77 L1283.82,456.94 L1284.81,463.36 L1285.80,470.05 L1374.50,470.05" stroke="#00ff00"/>
<path d="M963.50,470.05 L1056.80,470.05 L1057.72,463.47 L1058.64,457.37 L1059.55,451.72 L1060.47,446.49 L1061.39,441.65 L1062.31,437.19 L1063.23,433.07 L1064.15,429.29 L1065.07,425.81 L1065.99,422.62 L1066.91,419.70 L1067.83,417.05 L1068.75,414.63 L1069.67,412.44 L1070.60,410.47 L1071.52,408.70 L1072.44,407.12 L1073.36,405.73 L1074.29,404.50 L1075.21,403.44 L1076.13,402.52 L1077.06,401.76 L1077.98,401.12 L1078.91,400.62 L1079.83,400.23 L1080.76,399.96 L1081.68,399.80 L1082.61,399.73 L1083.54,399.76 L1084.46,399.89 L1085.39,400.09 L1086.32,400.38 L1087.24,400.74 L1088.17,401.17 L1089.10,401.66 L1090.03,402.22 L1090.96,402.84 L1091.89,403.51 L1092.81,404.23 L1093.74,404.99 L1094.67,405.81 L1095.60,406.66 L1096.53,407.55 L1097.47,408.47 L1098.40,409.43 L1099.33,410.42 L1100.26,411.43 L1101.19,412.47 L1102.12,413.53 L1103.06,414.61 L1103.99,415.72 L1104.92,416.83 L1105.86,417.96 L1106.79,419.11 L1107.72,420.26 L1108.66,421.42 L1109.59,422.60 L1110.53,423.77 L1111.46,424.95 L1112.40,426.14 L1113.34,427.32 L1114.27,428.51 L1115.21,429.69 L1116.15,430.88 L1117.08,432.05 L1118.02,433.23 L1118.96,434.40 L1119.90,435.56 L1120.83,436.71 L1121.77,437.85 L1122.71,438.99 L1123.65,440.11 L1124.59,441.23 L1125.53,442.33 L1126.47,443.41 L1127.41,444.48 L1128.35,445.54 L1129.29,446.58 L1130.24,447.61 L1131.18,448.62 L1132.12,449.61 L1133.06,450.59 L1134.00,451.54 L1134.95,452.48 L1135.89,453.39 L1136.83,454.29 L1137.78,455.16 L1138.72,456.01 L1139.67,456.85 L1140.61,457.66 L1141.56,458.44 L1142.50,459.21 L1143.45,459.95 L1144.39,460.66 L1145.34,461.35 L1146.29,462.02 L1147.23,462.66 L1148.18,463.28 L1149.13,463.87 L1150.08,464.44 L1151.03,464.98 L1151.97,465.49 L1152.92,465.98 L1153.87,466.44 L1154.82,466.87 L1155.77,467.28 L1156.72,467.66 L1157.67,468.01 L1158.62,468.34 L1159.57,468.63 L1160.52,468.90 L1161.48,469.14 L1162.43,469.35 L1163.38,469.54 L1164.33,469.69 L1165.29,469.82 L1166.24,469.92 L1167.19,469.99 L1168.15,470.04 L1169.10,470.05 L1170.05,470.04 L1171.01,469.99 L1171.96,469.92 L1172.92,469.82 L1173.87,469.69 L1174.83,469.54 L1175.79,469.35 L1176.74,469.14 L1177.70,468.90 L1178.66,468.63 L1179.61,468.34 L1180.57,468.01 L1181.53,467.66 L1182.49,467.28 L1183.45,466.87 L1184.41,466.44 L1185.36,465.98 L1186.32,465.49 L1187.28,464.98 L1188.24,464.44 L1189.20,463.87 L1190.17,463.28 L1191.13,462.66 L1192.09,462.02 L1193.05,461.35 L1194.01,460.66 L1194.97,459.95 L1195.94,459.21 L1196.90,458.44 L1197.86,457.66 L1198.83,456.85 L1199.79,456.01 L1200.75,455.16 L1201.72,454.29 L1202.68,453.39 L1203.65,452.48 L1204.61,451.54 L1205.58,450.59 L1206.54,449.61 L1207.51,448.62 L1208.48,447.61 L1209.44,446.58 L1210.41,445.54 L1211.38,444.48 L1212.35,443.41 L1213.31,442.33 L1214.28,441.23 L1215.25,440.11 L1216.22,438.99 L1217.19,437.85 L1218.16,436.71 L1219.13,435.56 L1220.10,434.40 L1221.07,433.23 L1222.04,432.05 L1223.01,430.88 L1223.98,429.69 L1224.96,428.51 L1225.93,427.32 L1226.90,426.14 L1227.87,424.95 L1228.85,423.77 L1229.82,422.60 L1230.79,421.42 L1231.77,420.26 L1232.74,419.11 L1233.71,417.96 L1234.69,416.83 L1235.66,415.72 L1236.64,414.61 L1237.62,413.53 L1238.59,412.47 L1239.57,411.43 L1240.54,410.42 L1241.52,409.43 L1242.50,408.47 L1243.48,407.55 L1244.45,406.66 L1245.43,405.81 L1246.41,404.99 L1247.39,404.23 L1248.37,403.51 L1249.35,402.84 L1250.33,402.22 L1251.31,401.66 L1252.29,401.17 L1253.27,400.74 L1254.25,400.38 L1255.23,400.09 L1256.21,399.89 L1257.19,399.76 L1258.18,399.73 L1259.16,399.80 L1260.14,399.96 L1261.12,400.23 L1262.11,400.62 L1263.09,401.12 L1264.08,401.76 L1265.06,402.52 L1266.04,403.44 L1267.03,404.50 L1268.01,405.73 L1269.00,407.12 L1269.99,408.70 L1270.97,410.47 L1271.96,412.44 L1272.94,414.63 L1273.93,417.05 L1274.92,419.70 L1275.91,422.62 L1276.89,425.81 L1277.88,429.29 L1278.87,433.07 L1279.86,437.19 L1280.85,441.65 L1281.84,446.49 L1282.83,451.72 L1283.82,457.37 L1284.81,463.47 L1285.80,470.05 L1374.50,470.05" stroke="#00ffff"/>
<path d="M963.50,470.05 L1056.80,470.05 L1057.72,463.58 L1058.64,457.79 L1059.55,452.62 L1060.47,448.03 L1061.39,443.97 L1062.31,440.39 L1063.23,437.26 L1064.15,434.54 L1065.07,432.20 L1065.99,430.20 L1066.91,428.51 L1067.83,427.12 L1068.75,425.99 L1069.67,425.10 L1070.60,424.43 L1071.52,423.97 L1072.44,423.69 L1073.36,423.58 L1074.29,423.62 L1075.21,423.79 L1076.13,424.09 L1077.06,424.50 L1077.98,425.01 L1078.91,425.61 L1079.83,426.29 L1080.76,427.04 L1081.68,427.85 L1082.61,428.72 L1083.54,429.63 L1084.46,430.58 L1085.39,431.57 L1086.32,432.58 L1087.24,433.62 L1088.17,434.67 L1089.10,435.74 L1090.03,436.81 L1090.96,437.90 L1091.89,438.98 L1092.81,440.06 L1093.74,441.14 L1094.67,442.21 L1095.60,443.27 L1096.53,444.32 L1097.47,445.35 L1098.40,446.37 L1099.33,447.37 L1100.26,448.36 L1101.19,449.32 L1102.12,450.27 L1103.06,451.19 L1103.99,452.09 L1104.92,452.96 L1105.86,453.81 L1106.79,454.64 L1107.72,455.44 L1108.66,456.22 L1109.59,456.97 L1110.53,457.70 L1111.46,458.40 L1112.40,459.07 L1113.34,459.72 L1114.27,460.35 L1115.21,460.94 L1116.15,461.52 L1117.08,462.07 L1118.02,462.59 L1118.96,463.09 L1119.90,463.57 L1120.83,464.03 L1121.77,464.46 L1122.71,464.87 L1123.65,465.26 L1124.59,465.63 L1125.53,465.98 L1126.47,466.30 L1127.41,466.61 L1128.35,466.90 L1129.29,467.18 L1130.24,467.43 L1131.18,467.67 L1132.12,467.89 L1133.06,468.10 L1134.00,468.29 L1134.95,468.47 L1135.89,468.63 L1136.83,468.78 L1137.78,468.92 L1138.72,469.05 L1139.67,469.17 L1140.61,469.28 L1141.56,469.37 L1142.50,469.46 L1143.45,469.54 L1144.39,469.61 L1145.34,469.67 L1146.29,469.73 L1147.23,469.78 L1148.18,469.82 L1149.13,469.86 L1150.08,469.89 L1151.03,469.92 L1151.97,469.95 L1152.92,469.97 L1153.87,469.99 L1154.82,470.00 L1155.77,470.01 L1156.72,470.02 L1157.67,470.03 L1158.62,470.04 L1159.57,470.04 L1160.52,470.04 L1161.48,470.05 L1162.43,470.05 L1163.38,470.05 L1164.33,470.05 L1165.29,470.05 L1166.24,470.05 L1167.19,470.05 L1168.15,470.05 L1169.10,470.05 L1170.05,470.05 L1171.01,470.05 L1171.96,470.05 L1172.92,470.05 L1173.87,470.05 L1174.83,470.05 L1175.79,470.05 L1176.74,470.05 L1177.70,470.04 L1178.66,470.04 L1179.61,470.04 L1180.57,470.03 L1181.53,470.02 L1182.49,470.01 L1183.45,470.00 L1184.41,469.99 L1185.36,469.97 L1186.32,469.95 L1187.28,469.92 L1188.24,469.89 L1189.20,469.86 L1190.17,469.82 L1191.13,469.78 L1192.09,469.73 L1193.05,469.67 L1194.01,469.61 L1194.97,469.54 L1195.94,469.46 L1196.90,469.37 L1197.86,469.28 L1198.83,469.17 L1199.79,469.05 L1200.75,468.92 L1201.72,468.78 L1202.68,468.63 L1203.65,468.47 L1204.61,468.29 L1205.58,468.10 L1206.54,467.89 L1207.51,467.67 L1208.48,467.43 L1209.44,467.18 L1210.41,466.90 L1211.38,466.61 L1212.35,466.30 L1213.31,465.98 L1214.28,465.63 L1215.25,465.26 L1216.22,464.87 L1217.19,464.46 L1218.16,464.03 L1219.13,463.57 L1220.10,463.09 L1221.07,462.59 L1222.04,462.07 L1223.01,461.52 L1223.98,460.94 L1224.96,460.35 L1225.93,459.72 L1226.90,459.07 L1227.87,458.40 L1228.85,457.70 L1229.82,456.97 L1230.79,456.22 L1231.77,455.44 L1232.74,454.64 L1233.71,453.81 L1234.69,452.96 L1235.66,452.09 L1236.64,451.19 L1237.62,450.27 L1238.59,449.32 L1239.57,448.36 L1240.54,447.37 L1241.52,446.37 L1242.50,445.35 L1243.48,444.32 L1244.45,443.27 L1245.43,442.21 L1246.41,441.14 L1247.39,440.06 L1248.37,438.98 L1249.35,437.90 L1250.33,436.81 L1251.31,435.74 L1252.29,434.67 L1253.27,433.62 L1254.25,432.58 L1255.23,431.57 L1256.21,430.58 L1257.19,429.63 L1258.18,428.72 L1259.16,427.85 L1260.14,427.04 L1261.12,426.29 L1262.11,425.61 L1263.09,425.01 L1264.08,424.50 L1265.06,424.09 L1266.04,423.79 L1267.03,423.62 L1268.01,423.58 L1269.00,423.69 L1269.99,423.97 L1270.97,424.43 L1271.96,425.10 L1272.94,425.99 L1273.93,427.12 L1274.92,428.51 L1275.91,430.20 L1276.89,432.20 L1277.88,434.54 L1278.87,437.26 L1279.86,440.39 L1280.85,443.97 L1281.84,448.03 L1282.83,452.62 L1283.82,457.79 L1284.81,463.58 L1285.80,470.05 L1374.50,470.05" stroke="#ff00ff"/>
</g>
<defs>
<clipPath id="cp0"><rect x="137.50" y="57.30" width="411.00" height="416.25"/></clipPath>
<clipPath id="cp1"><rect x="550.50" y="57.30" width="411.00" height="416.25"/></clipPath>
<clipPath id="cp2"><rect x="963.50" y="57.30" width="411.00" height="416.25"/></clipPath>
</defs>
<path d="M136.20,60.30 H549.48 M136.20,470.55 H549.48" stroke="#232323" stroke-width="3.30" fill="none"/>
<rect x="136.200" y="58.65" width="2.550" height="413.55" fill="#000"/>
<rect x="547.000" y="58.65" width="2.475" height="413.55" fill="#000"/>
<path d="M230.40,470.55 v-6.5 M230.40,60.30 v6.8" stroke="#111" stroke-width="2.4" fill="none"/>
<path d="M342.90,470.55 v-6.5 M342.90,60.30 v6.8" stroke="#111" stroke-width="2.4" fill="none"/>
<path d="M460.00,470.55 v-6.5 M460.00,60.30 v6.8" stroke="#111" stroke-width="2.4" fill="none"/>
<path d="M137.47,265.43 h5.4 M548.24,265.43 h-5.4" stroke="#111" stroke-width="2.9" fill="none"/>
<path d="M549.52,60.30 H962.48 M549.52,470.55 H962.48" stroke="#232323" stroke-width="3.30" fill="none"/>
<rect x="549.525" y="58.65" width="2.475" height="413.55" fill="#000"/>
<rect x="960.000" y="58.65" width="2.475" height="413.55" fill="#000"/>
<path d="M643.40,470.55 v-6.5 M643.40,60.30 v6.8" stroke="#111" stroke-width="2.4" fill="none"/>
<path d="M755.90,470.55 v-6.5 M755.90,60.30 v6.8" stroke="#111" stroke-width="2.4" fill="none"/>
<path d="M873.00,470.55 v-6.5 M873.00,60.30 v6.8" stroke="#111" stroke-width="2.4" fill="none"/>
<path d="M550.76,265.43 h5.4 M961.24,265.43 h-5.4" stroke="#111" stroke-width="2.9" fill="none"/>
<path d="M962.52,60.30 H1375.70 M962.52,470.55 H1375.70" stroke="#232323" stroke-width="3.30" fill="none"/>
<rect x="962.525" y="58.65" width="2.575" height="413.55" fill="#000"/>
<rect x="1373.100" y="58.65" width="2.600" height="413.55" fill="#000"/>
<path d="M1056.40,470.55 v-6.5 M1056.40,60.30 v6.8" stroke="#111" stroke-width="2.4" fill="none"/>
<path d="M1168.90,470.55 v-6.5 M1168.90,60.30 v6.8" stroke="#111" stroke-width="2.4" fill="none"/>
<path d="M1286.00,470.55 v-6.5 M1286.00,60.30 v6.8" stroke="#111" stroke-width="2.4" fill="none"/>
<path d="M963.81,265.43 h5.4 M1374.40,265.43 h-5.4" stroke="#111" stroke-width="2.9" fill="none"/>
<g font-family="Liberation Sans, sans-serif" fill="#000" font-size="41.67" opacity="0.999" text-rendering="geometricPrecision">
<text transform="translate(336.90,30.90) scale(1.0000,1.0430)" text-anchor="end">AB</text>
<text transform="translate(348.50,30.90) scale(1.0000,1.0430)">BC</text>
<rect x="341.60" y="-2" width="1.8" height="43.5" fill="#000"/>
<text transform="translate(750.90,30.90) scale(1.0000,1.0430)" text-anchor="end">AB</text>
<text transform="translate(762.50,30.90) scale(1.0000,1.0430)">AB</text>
<rect x="756.30" y="-2" width="1.8" height="43.5" fill="#000"/>
<text transform="translate(1163.60,30.90) scale(1.0000,1.0430)" text-anchor="end">AB</text>
<text transform="translate(1174.50,30.90) scale(1.0000,1.0430)">AC</text>
<rect x="1168.20" y="-2" width="1.8" height="43.5" fill="#000"/>
<clipPath id="one"><rect x="3.05" y="-30.52" width="18.31" height="26.15"/><rect x="10.44" y="-4.68" width="3.76" height="4.88"/></clipPath>
<g transform="translate(108.59,75.0) scale(1.060,1.043)"><text x="0" y="0" clip-path="url(#one)">1</text></g>
<text transform="translate(125.60,280.10) scale(1.0000,1.0430)" text-anchor="end">0.5</text>
<text transform="translate(125.90,485.70) scale(1.0000,1.0430)" text-anchor="end">0</text>
<rect x="170.10" y="495.85" width="25.4" height="1.7"/>
<text x="198.70" y="507.30">q</text>
<text x="221.90" y="513.10" font-size="29.20">c</text>
<text transform="translate(238.20,507.30) scale(0.9450,1.0000)">a</text>
<text transform="translate(342.90,515.10) scale(1.0000,1.0430)" text-anchor="middle">0</text>
<text x="428.30" y="507.30">q</text>
<text x="451.50" y="513.10" font-size="29.20">c</text>
<text transform="translate(467.80,507.30) scale(0.9450,1.0000)">a</text>
<text x="312.00" y="563.90">q</text>
<text x="335.60" y="570.00" font-size="29.20">x</text>
<text transform="translate(350.10,563.90) scale(0.9450,1.0000)">a</text>
<rect x="583.10" y="495.85" width="25.4" height="1.7"/>
<text x="611.70" y="507.30">q</text>
<text x="634.90" y="513.10" font-size="29.20">c</text>
<text transform="translate(651.20,507.30) scale(0.9450,1.0000)">a</text>
<text transform="translate(755.90,515.10) scale(1.0000,1.0430)" text-anchor="middle">0</text>
<text x="841.30" y="507.30">q</text>
<text x="864.50" y="513.10" font-size="29.20">c</text>
<text transform="translate(880.80,507.30) scale(0.9450,1.0000)">a</text>
<text x="725.00" y="563.90">q</text>
<text x="748.60" y="570.00" font-size="29.20">x</text>
<text transform="translate(763.10,563.90) scale(0.9450,1.0000)">a</text>
<rect x="996.10" y="495.85" width="25.4" height="1.7"/>
<text x="1024.70" y="507.30">q</text>
<text x="1047.90" y="513.10" font-size="29.20">c</text>
<text transform="translate(1064.20,507.30) scale(0.9450,1.0000)">a</text>
<text transform="translate(1168.90,515.10) scale(1.0000,1.0430)" text-anchor="middle">0</text>
<text x="1254.30" y="507.30">q</text>
<text x="1277.50" y="513.10" font-size="29.20">c</text>
<text transform="translate(1293.80,507.30) scale(0.9450,1.0000)">a</text>
<text x="1138.00" y="563.90">q</text>
<text x="1161.60" y="570.00" font-size="29.20">x</text>
<text transform="translate(1176.10,563.90) scale(0.9450,1.0000)">a</text>
<g transform="translate(36.1,331.2) rotate(-90)">
<text x="0.00" y="0.00">n</text>
<text x="23.00" y="-15.10" font-size="29.20">blue</text>
<text x="23.30" y="13.00" font-size="29.20">j</text>
<text x="78.70" y="0.00">(</text>
<text x="93.30" y="0.00">q</text>
<text x="118.00" y="0.00">)</text>
</g>
</g>
</svg>
</body></html>
